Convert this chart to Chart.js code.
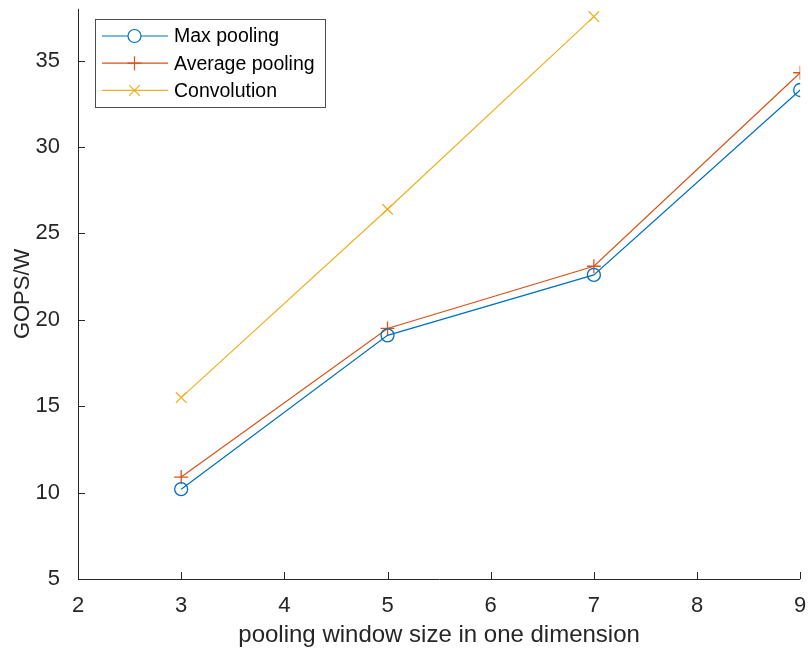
<!DOCTYPE html>
<html>
<head>
<meta charset="utf-8">
<script src="https://cdn.jsdelivr.net/npm/chart.js@4"></script>
<style>
  body { margin: 0; background: #fff; }
  #wrap { width: 809px; height: 654px; }
</style>
</head>
<body>
<div id="wrap"><canvas id="myChart"></canvas></div>
<script>
// window sizes on the x axis
const windowSizes = [3, 5, 7, 9];
const convSizes = [3, 5, 7];

// GOPS/W
const maxPooling = [10.2, 19.1, 22.6, 33.3];
const avgPooling = [10.9, 19.5, 23.1, 34.3];
const convolution = [15.5, 26.4, 37.55];

const xTicks = [2, 3, 4, 5, 6, 7, 8, 9];
const yTicks = [5, 10, 15, 20, 25, 30, 35];

const AXIS = '#262626';
const FONT = "'Liberation Sans', Arial, Helvetica, sans-serif";

function toPoints(xs, ys) {
    return xs.map((x, i) => ({ x: x, y: ys[i] }));
}

const series = [
    { label: 'Max pooling', data: toPoints(windowSizes, maxPooling), color: '#0072BD', style: 'circle', r: 6.5 },
    { label: 'Average pooling', data: toPoints(windowSizes, avgPooling), color: '#D95319', style: 'cross', r: 7 },
    { label: 'Convolution', data: toPoints(convSizes, convolution), color: '#EDB120', style: 'crossRot', r: 7.5 }
];

// axis lines, inward ticks and boxed legend, matlab style
const matlabAxes = {
    id: 'matlabAxes',
    afterDraw(chart) {
        const ctx = chart.ctx;
        const a = chart.chartArea;
        const xs = chart.scales.x, ys = chart.scales.y;
        ctx.save();
        ctx.strokeStyle = AXIS;
        ctx.lineWidth = 1;
        ctx.beginPath();
        ctx.moveTo(a.left + 0.5, a.top);
        ctx.lineTo(a.left + 0.5, a.bottom + 0.5);
        ctx.lineTo(a.right, a.bottom + 0.5);
        xTicks.forEach(v => {
            const px = Math.round(xs.getPixelForValue(v)) + 0.5;
            ctx.moveTo(px, a.bottom);
            ctx.lineTo(px, a.bottom - 7);
        });
        yTicks.forEach(v => {
            const py = Math.round(ys.getPixelForValue(v)) + 0.5;
            ctx.moveTo(a.left, py);
            ctx.lineTo(a.left + 7, py);
        });
        ctx.stroke();

        // legend
        const bx = 95.5, by = 19.5, bw = 230, bh = 88;
        ctx.fillStyle = '#fff';
        ctx.fillRect(bx, by, bw, bh);
        ctx.strokeStyle = '#4d4d4d';
        ctx.strokeRect(bx, by, bw, bh);
        ctx.font = '19.5px ' + FONT;
        ctx.textBaseline = 'middle';
        series.forEach((s, i) => {
            const y = 36 + i * 27.2;
            ctx.strokeStyle = s.color;
            ctx.lineWidth = 1.2;
            ctx.beginPath();
            ctx.moveTo(102, y);
            ctx.lineTo(168, y);
            ctx.stroke();
            Chart.helpers.drawPoint(ctx, { pointStyle: s.style, radius: s.r, borderWidth: 1.3 }, 134.5, y);
            ctx.fillStyle = '#000';
            ctx.fillText(s.label, 174, y + 1);
        });
        ctx.restore();
    }
};

const datasets = series.map(s => ({
    label: s.label,
    data: s.data,
    borderColor: s.color,
    backgroundColor: 'transparent',
    borderWidth: 1.2,
    pointStyle: s.style,
    pointRadius: s.r,
    pointBorderWidth: 1.3,
    pointBorderColor: s.color,
    pointBackgroundColor: 'transparent',
    tension: 0
}));

new Chart(document.getElementById('myChart'), {
    type: 'line',
    data: { datasets: datasets },
    options: {
        responsive: true,
        maintainAspectRatio: false,
        animation: false,
        layout: { padding: { top: 8, right: 8, left: 0, bottom: 0 } },
        plugins: { legend: { display: false }, tooltip: { enabled: false } },
        scales: {
            x: {
                type: 'linear',
                min: 2, max: 9,
                afterFit: s => { s.height = 75; s.paddingRight = 0; s.paddingLeft = 0; },
                afterBuildTicks: s => { s.ticks = xTicks.map(v => ({ value: v })); },
                grid: { display: false },
                border: { display: false },
                ticks: { color: AXIS, font: { family: FONT, size: 22 }, padding: 6 },
                title: {
                    display: true, text: 'pooling window size in one dimension',
                    color: AXIS, font: { family: FONT, size: 24 }, padding: { top: 0, bottom: 4 }
                }
            },
            y: {
                type: 'linear',
                min: 5, max: 38,
                afterFit: s => { s.width = 78; s.paddingTop = 0; s.paddingBottom = 0; },
                afterBuildTicks: s => { s.ticks = yTicks.map(v => ({ value: v })); },
                grid: { display: false },
                border: { display: false },
                ticks: { color: AXIS, font: { family: FONT, size: 22 }, padding: 10 },
                title: {
                    display: true, text: 'GOPS/W',
                    color: AXIS, font: { family: FONT, size: 22 }, padding: { top: 10, bottom: 0 }
                }
            }
        }
    },
    plugins: [matlabAxes]
});
</script>
</body>
</html>
